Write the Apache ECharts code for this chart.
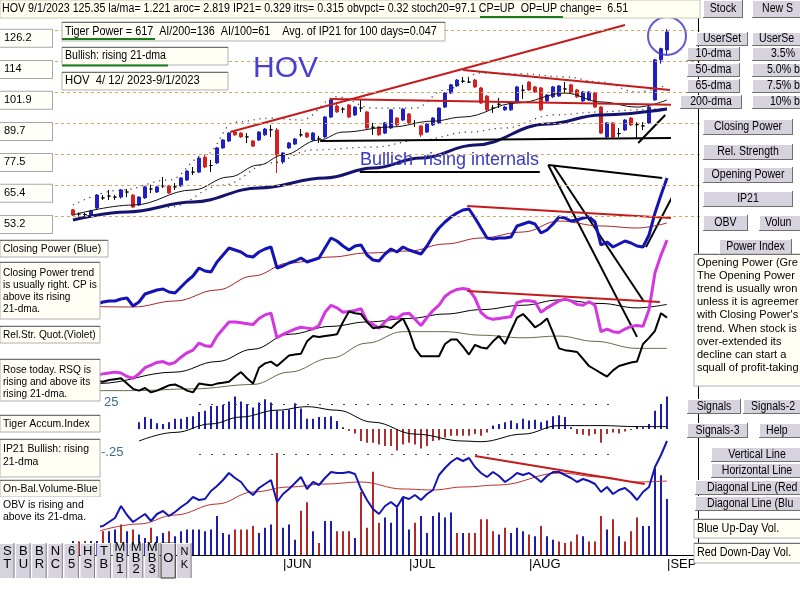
<!DOCTYPE html>
<html>
<head>
<meta charset="utf-8">
<script src="https://cdn.jsdelivr.net/npm/echarts@6/dist/echarts.min.js"></script>
<style>html,body{margin:0;background:#fff}#c{width:800px;height:600px}</style>
</head>
<body>
<div id="c"></div>
<script>
const priceTicks = [53.2, 65.4, 77.5, 89.7, 101.9, 114, 126.2];
const monthTicks = { 35: 'JUN', 56: 'JUL', 76: 'AUG', 99: 'SEP' };

// [open, close, low, high]
const ohlc = [
  [55.6,53.6,53.2,56.0],[54.0,54.0,53.0,54.6],[53.8,53.8,52.9,54.4],[53.6,55.2,53.2,55.6],[56.3,61.4,55.9,61.8],
  [60.3,60.3,59.5,61.4],[61.0,61.0,59.5,63.4],[60.6,60.6,59.5,61.4],[60.6,63.4,60.0,63.8],[62.6,62.6,60.6,63.8],
  [61.4,56.7,56.3,61.8],[57.5,60.6,57.1,61.0],[60.3,64.6,59.9,65.0],[63.8,63.8,62.2,65.4],[62.6,64.6,62.2,65.0],
  [65.0,65.0,64.2,68.5],[65.0,62.2,61.8,65.4],[64.6,64.6,63.4,66.1],[65.0,68.1,64.6,68.5],[67.3,70.8,66.9,71.2],
  [70.4,70.4,69.3,72.4],[70.4,75.9,70.0,76.3],[76.3,72.4,72.0,76.7],[73.0,73.0,70.4,75.2],[74.0,79.9,73.6,80.3],
  [79.9,83.0,79.5,83.4],[82.6,85.7,82.2,86.1],[86.1,85.0,84.6,86.5],[85.7,84.2,83.8,86.1],[84.2,84.2,81.8,85.7],
  [82.6,80.6,80.2,83.0],[83.0,86.1,82.6,86.5],[85.0,87.3,84.6,87.7],[87.0,87.0,84.2,88.9],[86.9,77.1,70.0,87.7],
  [74.4,77.9,73.6,78.3],[79.9,81.8,79.5,82.2],[81.4,83.4,81.0,83.8],[85.0,85.0,84.2,87.3],[85.7,84.2,83.8,86.1],
  [83.0,85.7,82.6,86.1],[83.5,83.5,81.8,84.6],[84.2,92.0,83.8,92.4],[92.0,98.7,91.6,99.5],[96.3,94.0,93.6,97.9],
  [95.1,95.1,93.6,95.9],[96.7,92.0,91.6,97.1],[92.8,95.9,92.4,96.3],[95.5,95.5,94.0,98.7],[94.0,87.7,87.3,94.4],
  [88.0,88.0,85.0,89.7],[88.1,85.0,84.6,88.5],[85.7,89.7,85.3,90.0],[87.7,94.8,87.3,95.1],[91.6,88.9,88.5,92.0],
  [90.8,95.1,90.4,95.5],[93.2,89.7,89.3,93.6],[89.5,89.5,88.1,90.8],[88.5,85.0,84.2,88.9],[86.1,89.3,85.7,89.7],
  [88.9,91.6,88.5,92.0],[89.7,95.5,89.3,95.9],[95.9,101.4,95.5,101.8],[101.4,104.6,101.0,105.0],[104.2,106.5,103.8,106.9],
  [106.0,106.0,105.3,107.7],[105.7,105.7,105.3,107.3],[106.5,103.8,103.4,106.9],[103.4,97.5,97.1,103.8],[100.2,94.8,94.4,100.6],
  [95.5,95.5,93.6,96.7],[97.0,97.0,95.5,99.5],[94.8,95.9,94.4,96.3],[94.8,97.5,94.4,97.9],[97.9,103.8,97.5,104.2],
  [102.5,102.5,99.1,104.6],[105.7,102.6,102.2,106.1],[103.8,101.8,101.4,104.2],[103.4,94.8,94.4,103.8],[98.3,100.6,97.9,101.0],
  [99.9,103.8,99.5,104.2],[100.2,104.2,99.9,104.6],[103.0,103.0,101.4,105.7],[104.6,101.4,101.0,105.0],[102.6,99.9,99.5,103.0],
  [98.3,101.8,97.9,102.2],[98.7,101.8,98.3,102.2],[101.4,95.9,95.5,101.8],[95.9,85.7,85.3,96.3],[84.2,89.7,83.8,90.0],
  [89.7,84.2,83.8,90.0],[85.5,85.5,84.2,87.7],[86.9,90.8,86.5,91.2],[91.6,88.9,88.5,92.0],[89.0,89.0,83.8,90.0],
  [88.5,88.5,86.9,90.0],[89.7,95.9,89.3,96.3],[98.7,114.4,98.3,114.8],[114.4,118.8,112.9,119.2],[118.3,125.35,116.4,126.5]
];

// medias del precio (día, valor)
const maThin = [[0,53.6],[10,57.5],[20,63.4],[26,68.5],[31,73.2],[35,77.1],[41,83.0],[45,86.1],[53,88.1],[60,90.4],[65,92.0],[74,97.5],[82,101.4],[88,97.9],[94,95.9],[99,98.7]];
const maThick = [[0,51.6],[9,54.8],[20,58.7],[31,64.2],[42,68.1],[50,72.0],[58,75.9],[67,81.0],[79,89.3],[88,92.8],[99,95.1]];
const bandUp = [[0,57.5],[8,63.4],[16,67.3],[22,77.1],[27,90.0],[33,91.6],[38,90.8],[44,99.9],[50,95.5],[57,95.5],[62,102.6],[68,109.3],[75,108.9],[82,107.7],[88,105.7],[94,101.8],[99,104.6]];
const bandDn = [[0,51.6],[8,54.8],[16,56.7],[25,65.35],[33,74.0],[40,79.1],[50,80.2],[58,83.0],[66,86.1],[72,87.7],[80,92.8],[88,94.0],[94,94.8],[99,95.5]];

// líneas dibujadas a mano sobre el precio: [[día, precio], [día, precio]]
const redTrends = [
  [[26.2,86.1],[92,128.1]],
  [[42.8,99.1],[101.2,96.7]],
  [[65,110.4],[99.5,102.6]]
];
const blackTrends = [
  [[41.2,82.6],[102,83.8]],
  [[94.2,81.8],[98.7,92.8]],
  [[47.8,70.4],[77.8,70.4]],
  [[79.2,73.2],[98.2,68.1]],
  [[79.2,73.2],[94,5.8]],
  [[80,73.2],[95.2,19.5]],
  [[95.5,41.0],[101.5,68.1]]
];
const circleAt = [99, 123.8];

// Closing Power (azul) y su media
const cpLine = [25,24,26,25,26,28,29,29,31,32, 24,28,36,38,40,41,38,37,43,49, 54,62,59,58,68,75,82,80,78,74,
  73,78,81,83,62,64,67,69,72,68, 70,72,82,92,89,84,80,84,85,75, 70,69,76,81,78,83,80,78,76,84,
  94,102,108,113,117,120,121,112,102,92, 91,92,92,93,104,106,108,106,97,100, 106,113,112,109,110,112,113,108,85,88,
  83,86,89,87,84,83,95,117,135,152];
const cpMa = [[0,24],[10,23],[17,29],[24,40],[30,54],[36,67],[43,73],[49,77],[56,79],[62,86],[68,92],[75,98],[81,109],[88,104],[94,102],[99,107]];
const cpTrend = [[65.7,124],[99.8,112]];

// Rel. Strength (violeta) y su media
const rsLine = [30,28,30,31,30,31,32,33,32,28, 26,31,38,41,44,45,42,44,50,55, 58,66,63,62,74,82,90,90,89,88,
  87,94,98,100,72,76,79,82,84,83, 82,86,101,109,106,101,102,103,105,91, 87,83,90,96,94,99,100,93,86,95,
  103,109,119,124,127,128,127,117,101,95, 93,94,95,96,112,114,114,113,101,106, 110,114,116,114,110,109,113,109,79,82,
  79,78,82,85,86,85,104,146,166,183];
const rsMa = [[0,22],[4,20],[17,33],[24,45],[30,59],[36,76],[43,85],[49,90],[56,94],[62,99],[68,104],[75,109],[81,115],[88,111],[94,106],[99,110]];
const rsTrend = [[65.7,125.2],[97.8,112.7]];

// Opening Power (negra) y su media
const opLine = [35,34,36,35,33,32,34,35,36,30, 24,22,25,20,22,25,28,29,26,22, 20,30,29,28,30,31,32,38,43,36,
  30,48,53,55,50,56,62,63,64,78, 84,83,84,85,86,100,112,110,109,100, 93,94,95,93,99,104,90,70,61,61,
  61,61,75,80,80,72,63,74,71,70, 78,84,75,90,105,109,102,94,98,104, 88,70,68,67,66,58,50,46,42,38,
  45,50,52,54,55,75,82,90,110,105];
const opMa = [[0,22],[10,22],[20,24],[30,29],[36,43],[43,59],[49,76],[55,89],[62,89],[68,85],[75,82],[81,84],[87,78],[94,70],[99,70]];

// Tiger Accum. Index (IP21)
const accum = [null,null,null,null,null,null,null,null,null,null,null,
  0.068,0.12,0.103,0.058,0.051,0.068,0.103,0.103,0.12,0.127,
  0.171,0.182,0.229,0.229,0.24,0.274,0.325,0.274,0.25,0.216,
  0.264,0.298,0.264,0.182,0.182,0.195,0.257,0.205,0.103,0.103,
  0.12,0.12,0.127,0.079,0.017,-0.017,-0.045,-0.12,-0.137,-0.137,
  -0.154,-0.171,-0.171,-0.216,-0.154,-0.137,-0.154,-0.195,-0.171,-0.12,
  -0.113,-0.086,-0.068,-0.068,-0.068,-0.068,-0.051,-0.068,-0.034,0.034,
  0.051,0.068,0.086,0.058,0.103,0.086,0.092,0.068,0.086,0.127,
  0.137,0.12,0.017,-0.051,-0.058,-0.068,-0.051,-0.137,-0.051,-0.034,
  -0.045,-0.024,-0.01,0.024,0.017,0.051,0.182,0.25,0.325];
const accumMa = [[11,-0.12],[17,-0.034],[23,0.051],[28,0.12],[34,0.188],[39,0.223],[44,0.188],[50,0.068],[57,-0.051],[65,-0.12],[68,-0.127],[75,-0.051],[81,0.034],[88,0.034],[94,0.024],[99,0.024]];
const accumLevels = [0.25, -0.25];

// Volumen (miles) y dirección del día: b = sube, r = baja
const vol = [220,160,200,240,380,280,280,300,360,280, 300,240,200,320,220,260,280,220,280,300,
  300,300,280,300,460,260,240,300,300,300, 340,260,320,360,1200,320,360,180,520,620,
  280,140,400,400,280,280,280,200,740,320, 980,380,440,380,560,680,300,380,460,260,
  460,500,440,500,260,260,260,260,420,420, 280,240,320,260,320,280,240,220,340,220,
  180,160,140,160,240,220,160,160,460,300, 420,220,160,280,440,340,340,1020,940,660];
const volDir = 'brrbbrbbrb' + 'rbbrbbrbbb' + 'bbbbbbbrrr' + 'rbbbrbbbrr' + 'brbbrrrbrr' +
  'rrbbbbbrbb' + 'bbbbrbrrrr' + 'rbrbbbrbrb' + 'brrrrbrrrb' + 'rbrrrbbbbb';

// On-Balance Volume y su media
const obv = [300,280,300,320,330,340,380,420,540,450, 380,420,460,390,460,490,440,480,530,570,
  630,600,610,690,740,800,870,820,780,700, 650,720,760,800,580,660,710,770,830,710,
  780,750,820,880,870,870,880,860,710,600, 510,460,540,580,530,630,610,650,600,660,
  700,850,920,980,1020,990,1020,930,870,830, 880,840,780,820,870,850,870,830,780,840,
  880,880,850,820,780,810,790,760,680,730, 660,700,720,670,600,680,730,930,1050,1190];
const obvMa = [[0,200],[11,360],[17,450],[24,560],[30,680],[36,730],[42,760],[48,780],[55,710],[60,700],[65,730],[71,750],[81,870],[88,830],[94,780],[99,790]];
const obvTrend = [[67,1040],[95.3,760]];

// ===== fuentes y colores =====
const SANS = '"Liberation Sans", Arial, sans-serif';
const F12 = '12px ' + SANS, F11 = '11px ' + SANS;
const C = {
  up: '#1f1fc4', dn: '#d42020', cp: '#1414b4', rs: '#d436e0', navy: '#14146e',
  trend: '#c41c1c', grid: '#d4a860', volUp: '#1c1ca8', volDn: '#b42828', btn: '#d6d3df', field: '#fffff6'
};

// ===== controles de la interfaz (graphic) =====
const G = [];
function rect(x, y, w, h, fill, stroke, z) {
  G.push({ type: 'rect', z: z || 100, shape: { x, y, width: w, height: h }, style: { fill, stroke: stroke || null, lineWidth: 1 } });
}
function seg(x1, y1, x2, y2, stroke, w, z) {
  G.push({ type: 'line', z: z || 101, shape: { x1, y1, x2, y2 }, style: { stroke, lineWidth: w || 1 } });
}
// sx: compresión horizontal para imitar la fuente estrecha del original
function txt(x, y, s, font, opt, sx) {
  G.push({ type: 'text', z: 102, x, y, scaleX: sx || 1, style: Object.assign({
    text: s, fill: '#000', font: font || F11,
    align: 'left', textAlign: 'left', verticalAlign: 'middle', textVerticalAlign: 'middle'
  }, opt || {}) });
}
function button(x, y, w, h, label, tx) {
  rect(x, y, w, h, C.btn);
  seg(x, y + 0.5, x + w, y + 0.5, '#ffffff'); seg(x + 0.5, y, x + 0.5, y + h, '#ffffff');
  seg(x, y + h - 0.5, x + w, y + h - 0.5, '#707070'); seg(x + w - 0.5, y, x + w - 0.5, y + h, '#707070');
  if (tx != null) txt(tx, y + h / 2, label, F12, null, 0.88);
  else txt(x + w / 2, y + h / 2, label, F12, { align: 'center', textAlign: 'center' }, 0.88);
}
function field(x, y, w, h, lines, first, lh, font, sx, fill) {
  rect(x, y, w, h, fill || C.field, fill ? null : '#b0b0b0');
  if (!fill) seg(x, y + 0.5, x + w, y + 0.5, '#707070');
  lines.forEach((s, k) => txt(x + 3, y + first + k * lh, s, font, null, sx));
}

// cabecera
rect(0, 0, 700, 18, '#fffff2', '#c8c8b0');
txt(2, 9, 'HOV 9/1/2023 125.35 la/ma= 1.221 aroc= 2.819 IP21= 0.329 itrs= 0.315 obvpct= 0.32 stoch20=97.1 CP=UP  OP=UP change=  6.51', F12, null, 0.89);
seg(480, 17, 563, 17, '#1a7d1a', 2);
field(62, 22, 383, 19, ['Tiger Power = 617  AI/200=136  AI/100=61    Avg. of IP21 for 100 days=0.047'], 9.5, 0, F12, 0.9);
seg(62, 39, 155, 39, '#1a7d1a', 2);
field(62, 47, 166, 18, ['Bullish: rising 21-dma'], 9, 0, F12, 0.88);
seg(62, 65.5, 168, 65.5, '#1a7d1a', 2);
field(62, 72, 166, 18, ['HOV  4/ 12/ 2023-9/1/2023'], 9, 0, F12, 0.94);
txt(253, 69, 'HOV', '30px ' + SANS, { fill: '#4a40d0' });
txt(360, 160, 'Bullish  rising internals', '18px ' + SANS, { fill: '#3a3ac8' });

// columna izquierda
field(0, 240, 108, 17, ['Closing Power (Blue)'], 8.5, 0, F11, 0.95);
field(0, 262, 100, 57, ['Closing Power trend', 'is usually right. CP is', 'above its rising', '21-dma.'], 11, 12, F11, 0.92);
field(0, 326, 100, 17, ['Rel.Str. Quot.(Violet)'], 8.5, 0, F11, 0.92);
field(0, 359, 100, 42, ['Rose today. RSQ is', 'rising and above its', 'rising 21-dma.'], 11, 12, F11, 0.92);
field(0, 415, 100, 17, ['Tiger Accum.Index'], 8.5, 0, F11, 0.95);
field(0, 439, 100, 38, ['IP21 Bullish: rising', '21-dma'], 10, 13, F11, 0.95);
field(0, 480, 100, 17, ['On-Bal.Volume-Blue'], 8.5, 0, F11, 0.95);
field(0, 497, 100, 44, ['OBV is rising and', 'above its 21-dma.'], 8, 12, F11, 0.95, '#ffffff');
txt(104, 402, '25', '13px ' + SANS, { fill: '#3c6e8c' });
txt(101, 452, '-.25', '13px ' + SANS, { fill: '#3c6e8c' });

// botones inferiores
['S\nT', 'B\nU', 'B\nR', 'N\nC', '6\n5', 'H\nS', 'T\nB', 'M\nB\n1', 'M\nB\n2', 'M\nB\n3', 'O', 'N\nK'].forEach((s, i) => {
  const x = i * 16.1, parts = s.split('\n'), lh = parts.length === 3 ? 11 : 13;
  rect(x, 543, 14.5, 35, C.btn, i === 10 ? '#303030' : null);
  seg(x, 543.5, x + 14.5, 543.5, '#ffffff');
  seg(x + 14, 543, x + 14, 578, '#808080');
  parts.forEach((p, k) => txt(x + 7.25, 558 + (k - (parts.length - 1) / 2) * lh, p,
    (i === 11 ? '11px ' : '13px ') + SANS, { align: 'center', textAlign: 'center' }));
});

// columna derecha
seg(698.5, 18, 698.5, 543, '#000', 1, 99);
seg(670, 555.5, 694, 555.5, '#000', 1, 99);
button(703, 0, 40, 18, 'Stock');
button(752, 0, 60, 18, 'New S', 762);
button(696, 32, 52, 14, 'UserSet');
button(752, 32, 50, 14, 'UserSe', 759);
button(687, 47, 53, 14, '10-dma');
button(752, 47, 50, 14, '3.5%', 771);
button(687, 63, 53, 14, '50-dma');
button(752, 63, 50, 14, '5.0% b', 767);
button(687, 79, 53, 14, '65-dma');
button(752, 79, 50, 14, '7.5% b', 767);
button(680, 95, 62, 14, '200-dma');
button(752, 95, 50, 14, '10% b', 770);
button(703, 119, 90, 16, 'Closing Power');
button(703, 144, 90, 16, 'Rel. Strength');
button(703, 167, 90, 16, 'Opening Power');
button(703, 191, 90, 16, 'IP21');
button(703, 215, 45, 16, 'OBV');
button(759, 215, 50, 16, 'Volun', 765);
button(719, 239, 73, 16, 'Power Index');
field(694, 254, 110, 132, ['Opening Power (Gre', 'The Opening Power', 'trend is usually wron', 'unless it is agreemer',
  'with Closing Power\'s', 'trend. When stock is', 'over-extended its', 'decline can start a', 'squall of profit-taking'], 9, 13.1, F11, 1);
button(687, 399, 54, 15, 'Signals');
button(743, 399, 60, 15, 'Signals-2', 751);
button(687, 423, 61, 15, 'Signals-3');
button(759, 423, 45, 15, 'Help', 766);
button(711, 447, 92, 15, 'Vertical Line');
button(711, 463, 92, 15, 'Horizontal Line');
button(695, 480, 110, 15, 'Diagonal Line (Red', 707);
button(695, 496, 110, 15, 'Diagonal Line (Blu', 707);
field(694, 519, 110, 19, ['Blue Up-Day Vol.'], 9.5, 0, F12, 0.9);
field(694, 543, 110, 20, ['Red Down-Day Vol.'], 10, 0, F12, 0.9);

// ===== ejes y paneles =====
const L = 70, W = 600;
const days = ohlc.map((_, i) => String(i));
const idx = arr => arr.map((v, i) => [i, v]);
const hidden = { show: false };
const valX = (g) => ({ type: 'value', gridIndex: g, min: -0.5, max: 99.5, show: false });
const valY = (g, min, max) => ({ type: 'value', gridIndex: g, min, max, show: false });

const lineS = (xi, yi, data, color, width, extra) => Object.assign({
  type: 'line', xAxisIndex: xi, yAxisIndex: yi, data, showSymbol: false, symbol: 'none', silent: true,
  lineStyle: { color, width }, clip: false
}, extra || {});
const maS = (xi, yi, data, color, width, type) => lineS(xi, yi, data, color, width,
  { smooth: 0.4, smoothMonotone: 'x', lineStyle: { color, width, type: type || 'solid' } });

const series = [
  // líneas punteadas horizontales del precio
  { type: 'line', xAxisIndex: 8, yAxisIndex: 7, data: [], silent: true,
    markLine: { symbol: 'none', silent: true, label: { show: false },
      lineStyle: { color: C.grid, type: [3, 3], width: 1 }, data: priceTicks.map(v => ({ yAxis: v })) } },
  maS(1, 0, bandUp, '#333', 1.2, [1.2, 4.8]),
  maS(1, 0, bandDn, '#333', 1.2, [1.2, 4.8]),
  maS(1, 0, maThin, '#111', 1),
  maS(1, 0, maThick, C.navy, 3),
  { type: 'candlestick', xAxisIndex: 0, yAxisIndex: 0, barWidth: 4, silent: true,
    itemStyle: { color: C.up, color0: C.dn, borderColor: C.up, borderColor0: C.dn, borderColorDoji: '#000', borderWidth: 1 },
    data: ohlc.map(d => d[0] === d[1]
      ? { value: d, itemStyle: { color: '#000', color0: '#000', borderColor: '#000', borderColor0: '#000' } } : d) },
  ...redTrends.map(t => lineS(1, 0, t, C.trend, 2)),
  ...blackTrends.map(t => lineS(1, 0, t, '#000', 2)),
  { type: 'scatter', xAxisIndex: 1, yAxisIndex: 0, data: [circleAt], symbol: 'circle', symbolSize: 38, silent: true,
    itemStyle: { color: 'rgba(0,0,0,0)', borderColor: '#3c32c8', borderWidth: 2 } },

  // Closing Power
  maS(2, 1, cpMa, '#a82828', 1),
  lineS(2, 1, idx(cpLine), C.cp, 3),
  lineS(2, 1, cpTrend, C.trend, 2),
  // Relative Strength
  maS(3, 2, rsMa, '#000', 1),
  lineS(3, 2, idx(rsLine), C.rs, 3),
  lineS(3, 2, rsTrend, C.trend, 2),
  // Opening Power
  maS(4, 3, opMa, '#6a6a48', 1),
  lineS(4, 3, idx(opLine), '#000', 2),

  // Tiger Accum Index
  { type: 'bar', xAxisIndex: 5, yAxisIndex: 4, barWidth: 2, silent: true,
    data: accum.map(v => v == null ? null : { value: v, itemStyle: { color: v >= 0 ? C.volUp : '#a83030' } }),
    markLine: { symbol: 'none', silent: true, label: { show: false },
      lineStyle: { color: '#444', type: [2, 10], width: 1 },
      data: accumLevels.map(v => [{ coord: [21, v] }, { coord: [90, v] }]) } },
  maS(5, 4, accumMa, '#000', 1),

  // Volumen
  { type: 'bar', xAxisIndex: 7, yAxisIndex: 6, barWidth: 2, silent: true,
    data: vol.map((v, i) => ({ value: v, itemStyle: { color: volDir[i] === 'b' ? C.volUp : C.volDn } })) },
  // OBV
  maS(6, 5, obvMa, '#c03030', 1),
  lineS(6, 5, idx(obv), C.cp, 2),
  lineS(6, 5, obvTrend, C.trend, 2)
];

const option = {
  animation: false,
  backgroundColor: '#ffffff',
  textStyle: { fontFamily: SANS },
  grid: [
    { left: L, width: W, top: 10, height: 220 },   // 0 precio
    { left: L, width: W, top: 150, height: 180 },  // 1 closing power
    { left: L, width: W, top: 200, height: 220 },  // 2 rel. strength
    { left: L, width: W, top: 250, height: 190 },  // 3 opening power
    { left: L, width: W, top: 380, height: 100 },  // 4 accum index
    { left: L, width: W, top: 420, height: 140 },  // 5 OBV
    { left: L, width: W, top: 425, height: 130 },  // 6 volumen
    { left: 55, width: 645, top: 10, height: 220 } // 7 rejilla punteada
  ].map(g => Object.assign({ containLabel: false, outerBoundsMode: 'none' }, g)),
  xAxis: [
    { type: 'category', gridIndex: 0, data: days, boundaryGap: true, show: false },
    valX(0), valX(1), valX(2), valX(3),
    { type: 'category', gridIndex: 4, data: days, boundaryGap: true, show: false },
    valX(5),
    { type: 'category', gridIndex: 6, data: days, boundaryGap: true,
      axisLine: { lineStyle: { color: '#000', width: 1 } }, axisTick: hidden, splitLine: hidden,
      axisLabel: { interval: (i) => i in monthTicks, formatter: (v) => '|' + monthTicks[v],
        align: 'left', color: '#000', fontSize: 13, fontFamily: SANS, margin: 3 } },
    { type: 'value', gridIndex: 7, min: 0, max: 1, show: false }
  ],
  yAxis: [
    { type: 'value', gridIndex: 0, min: 47.71, max: 133.95,
      axisLine: hidden, axisTick: hidden, splitLine: hidden,
      axisLabel: { customValues: priceTicks, formatter: v => String(+(+v).toFixed(1)),
        align: 'left', verticalAlign: 'top', margin: 70, color: '#000', fontSize: 11, fontFamily: SANS,
        backgroundColor: '#fffffa', borderColor: '#a8a8a8', borderWidth: 1, padding: [1, 4, 2, 4],
        width: 44, lineHeight: 14 } },
    valY(1, 0, 180),
    valY(2, -21.4, 228.6),
    valY(3, -34.1, 181.8),
    valY(4, -0.51, 0.49),
    valY(5, 0, 1400),
    valY(6, 0, 1530),
    valY(7, 47.71, 133.95)
  ],
  graphic: G,
  series
};

const chart = echarts.init(document.getElementById('c'), null, { renderer: 'canvas' });
chart.setOption(option);
</script>
</body>
</html>
